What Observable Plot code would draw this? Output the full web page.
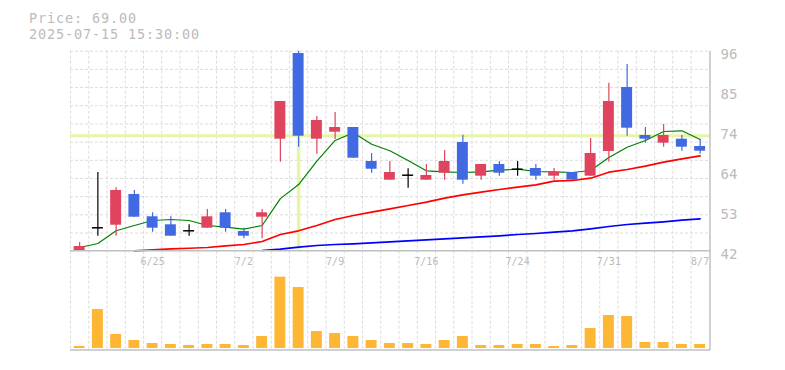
<!DOCTYPE html>
<html>
<head>
<meta charset="utf-8">
<script src="https://cdn.jsdelivr.net/npm/d3@7"></script>
<script src="https://cdn.jsdelivr.net/npm/@observablehq/plot@0.6"></script>
<style>
  body { margin: 0; background: #fff; }
  #chart { position: relative; width: 785px; height: 370px; font-family: "DejaVu Sans Mono", monospace; }
  .hdr { position: absolute; left: 29px; font-size: 13.5px; letter-spacing: 0.87px; line-height: 16px; color: #bbb; white-space: pre; }
  #chart svg { position: absolute; left: 0; top: 0; }
</style>
</head>
<body>
<div id="chart">
  <div class="hdr" id="h1" style="top:9.8px"></div>
  <div class="hdr" id="h2" style="top:26px"></div>
</div>
<script>
// ---- data ----
const headerPrice = "Price: 69.00";
const headerTime = "2025-07-15 15:30:00";

const dates = ["6/19","6/20","6/23","6/24","6/25","6/26","6/27","6/30","7/1","7/2",
  "7/3","7/4","7/7","7/8","7/9","7/10","7/11","7/14","7/15","7/16",
  "7/17","7/18","7/22","7/23","7/24","7/25","7/28","7/29","7/30","7/31",
  "8/1","8/4","8/5","8/6","8/7"];

const open  = [42.0, 48.32, 49.02, 57.31, 51.29, 49.13, 47.51, 48.21, 52.37, 47.32,
  51.18, 72.24, 95.38, 72.24, 74.13, 75.40, 66.22, 61.17, 62.52, 61.17,
  63.06, 71.35, 62.25, 65.41, 64.14, 64.33, 62.25, 63.25, 62.25, 68.92,
  86.20, 73.24, 71.16, 72.24, 70.27];
const close = [43.27, 48.32, 58.39, 51.18, 48.21, 46.05, 47.51, 51.29, 48.21, 46.05,
  52.37, 82.42, 73.05, 77.29, 75.40, 67.11, 64.14, 63.25, 62.52, 62.44,
  66.22, 61.17, 65.41, 63.06, 64.14, 62.25, 63.25, 61.17, 68.38, 82.42,
  75.21, 72.24, 73.24, 70.08, 69.00];
const high  = [44.35, 63.25, 59.12, 58.39, 52.37, 51.29, 49.13, 53.26, 53.26, 48.21,
  53.26, 82.42, 96.00, 78.37, 79.45, 75.40, 68.38, 66.22, 64.25, 65.41,
  69.19, 73.32, 65.41, 66.22, 66.22, 65.41, 64.33, 63.25, 72.43, 87.36,
  92.41, 75.40, 76.21, 73.24, 72.24];
const low   = [42.0, 46.05, 46.05, 51.18, 47.13, 46.05, 46.05, 48.21, 47.13, 45.35,
  45.35, 66.03, 70.08, 68.19, 72.16, 67.11, 63.06, 61.17, 59.01, 61.17,
  61.17, 60.09, 61.17, 62.25, 62.25, 61.17, 61.17, 61.17, 62.25, 66.03,
  73.05, 71.16, 70.08, 69.00, 68.19];

const ma5  = [43.0, 44.08, 47.51, 48.94, 50.29, 50.56, 50.29, 48.94, 48.48, 47.94,
  48.94, 56.2, 60.0, 66.3, 71.9, 74.0, 70.89, 69.11, 66.49, 63.71,
  63.44, 63.25, 63.44, 63.87, 64.14, 63.52, 63.44, 63.25, 63.79, 67.3,
  70.08, 71.89, 74.32, 74.51, 72.16];
const ma25 = [null, null, null, 42.11, 42.38, 42.65, 42.8, 43.0, 43.46, 43.81,
  44.62, 46.51, 47.51, 48.94, 50.56, 51.64, 52.53, 53.45, 54.34, 55.23,
  56.31, 57.23, 57.93, 58.66, 59.28, 59.93, 60.90, 61.09, 61.71, 63.33,
  64.06, 64.95, 66.03, 66.95, 67.76];
const ma75 = [null, null, null, null, null, null, null, null, null, null,
  42.19, 42.54, 43.08, 43.54, 43.81, 44.0, 44.27, 44.54, 44.81, 45.08,
  45.35, 45.62, 45.89, 46.16, 46.51, 46.78, 47.13, 47.51, 48.05, 48.67,
  49.21, 49.56, 49.94, 50.37, 50.75];

const volume = [6, 117, 42, 24, 15, 12, 9, 12, 12, 9,
  36, 214, 183, 51, 45, 36, 24, 15, 15, 12,
  24, 36, 9, 9, 12, 12, 6, 9, 60, 99,
  96, 18, 18, 12, 12];

const xTickDates = ["6/25","7/2","7/9","7/16","7/24","7/31","8/7"];
const yTickValues = [42, 52.8, 63.6, 74.4, 85.2, 96];
const yTickLabels = ["42","53","64","74","85","96"];
const crossDate = "7/7";
const crossPrice = 73.16;

// ---- build ----
document.getElementById("h1").textContent = headerPrice;
document.getElementById("h2").textContent = headerTime;

const rows = dates.map((d, i) => ({
  i, date: d, open: open[i], close: close[i], high: high[i], low: low[i],
  ma5: ma5[i], ma25: ma25[i], ma75: ma75[i], volume: volume[i]
}));
const upColor = "#e0435e", downColor = "#4169e1", dojiColor = "#000";
const colorOf = d => d.close > d.open ? upColor : d.close < d.open ? downColor : dojiColor;
const half = 0.3;
const gridColor = "#dcdcdc", frameColor = "#c0c0c0", hlColor = "#e6f5a7";
const xTickIdx = xTickDates.map(d => dates.indexOf(d));
const crossIdx = dates.indexOf(crossDate);
const hGrid = d3.range(1, 12).map(k => 42 + k * 54 / 11);
const slotEdges = dates.map((d, i) => i - 0.5);
const bodies = rows.filter(d => d.open !== d.close);
const dojis = rows.filter(d => d.open === d.close);
const ns = "http://www.w3.org/2000/svg";

function lineEl(x1, y1, x2, y2, stroke) {
  const l = document.createElementNS(ns, "line");
  l.setAttribute("x1", x1); l.setAttribute("y1", y1);
  l.setAttribute("x2", x2); l.setAttribute("y2", y2);
  l.setAttribute("stroke", stroke);
  l.setAttribute("stroke-width", 1.5);
  return l;
}

const style = { background: "transparent", fontFamily: "DejaVu Sans Mono, monospace", color: "#bbb", overflow: "visible" };
const xScale = { type: "linear", domain: [-0.5, 34.5], range: [70, 708.75] };

const main = Plot.plot({
  width: 785, height: 370,
  marginTop: 50.7, marginBottom: 119.3, marginLeft: 70, marginRight: 75,
  x: xScale,
  y: { domain: [42, 96] },
  style,
  marks: [
    Plot.ruleY(hGrid, { stroke: gridColor, strokeDasharray: "3,2" }),
    Plot.ruleX(slotEdges, { stroke: gridColor, strokeDasharray: "3,2" }),
    Plot.ruleY([crossPrice], { stroke: hlColor, strokeWidth: 3 }),
    Plot.ruleX([crossIdx], { y1: crossPrice, y2: 42, stroke: hlColor, strokeWidth: 3.5 }),
    Plot.line(rows, { x: "i", y: "ma75", stroke: "#0000ff", strokeWidth: 1.7 }),
    Plot.line(rows, { x: "i", y: "ma25", stroke: "#ff0000", strokeWidth: 1.7 }),
    Plot.line(rows, { x: "i", y: "ma5", stroke: "#008000", strokeWidth: 1.2 }),
    Plot.ruleX(rows, { x: "i", y1: "low", y2: "high", stroke: colorOf, strokeWidth: 1.2 }),
    Plot.rect(bodies, { x1: d => d.i - half, x2: d => d.i + half, y1: "open", y2: "close", fill: colorOf }),
    Plot.ruleY(dojis, { y: "open", x1: d => d.i - half, x2: d => d.i + half, stroke: dojiColor, strokeWidth: 1.5 }),
    (index, scales, values, dim) => {
      const g = document.createElementNS(ns, "g");
      const right = dim.width - dim.marginRight;
      const bottom = dim.height - dim.marginBottom;
      g.appendChild(lineEl(dim.marginLeft, bottom, right, bottom, frameColor));
      g.appendChild(lineEl(right, dim.marginTop, right, 350, frameColor));
      return g;
    },
    Plot.axisY(yTickValues, { anchor: "right", tickSize: 0, tickPadding: 10, fontSize: 14, dy: 3,
      tickFormat: d => yTickLabels[yTickValues.indexOf(d)], label: null }),
    Plot.axisX(xTickIdx, { anchor: "bottom", tickSize: 0, tickPadding: 7, fontSize: 10,
      tickFormat: i => dates[i], label: null })
  ]
});

const vol = Plot.plot({
  width: 785, height: 370,
  marginTop: 250.7, marginBottom: 20, marginLeft: 70, marginRight: 75,
  x: { ...xScale, axis: null },
  y: { domain: [0, 300], range: [348, 248], axis: null },
  style,
  marks: [
    Plot.ruleX(slotEdges, { stroke: gridColor, strokeDasharray: "3,2" }),
    Plot.rectY(rows, { x1: d => d.i - half, x2: d => d.i + half, y: "volume", fill: "#fdb735" }),
    (index, scales, values, dim) => {
      const g = document.createElementNS(ns, "g");
      const right = dim.width - dim.marginRight;
      const bottom = dim.height - dim.marginBottom;
      g.appendChild(lineEl(dim.marginLeft, bottom, right, bottom, frameColor));
      return g;
    }
  ]
});

const chart = document.getElementById("chart");
chart.appendChild(vol);
chart.appendChild(main);
</script>
</body>
</html>
